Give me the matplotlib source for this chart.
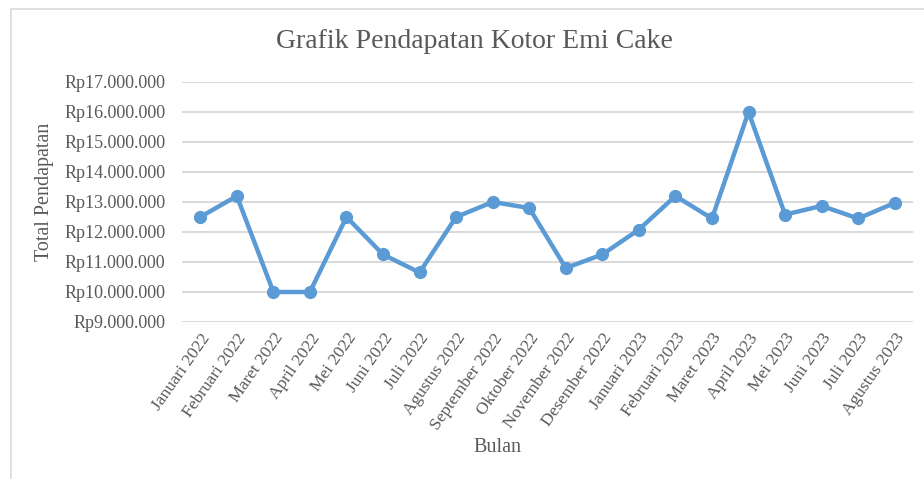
import matplotlib.pyplot as plt
from matplotlib.patches import Rectangle

# monthly gross income (Rupiah)
months = ['Januari 2022', 'Februari 2022', 'Maret 2022', 'April 2022', 'Mei 2022',
          'Juni 2022', 'Juli 2022', 'Agustus 2022', 'September 2022', 'Oktober 2022',
          'November 2022', 'Desember 2022', 'Januari 2023', 'Februari 2023',
          'Maret 2023', 'April 2023', 'Mei 2023', 'Juni 2023', 'Juli 2023',
          'Agustus 2023']
income = [12500000, 13200000, 10000000, 10000000, 12500000,
          11250000, 10650000, 12500000, 13000000, 12800000,
          10800000, 11250000, 12080000, 13200000,
          12450000, 16000000, 12580000, 12870000, 12450000,
          12970000]
y_ticks = list(range(9000000, 17000001, 1000000))

plt.rcParams['font.family'] = ['Liberation Serif', 'DejaVu Serif']
text_color = '#595959'
line_color = '#5B9BD5'

fig = plt.figure(figsize=(9.24, 4.79), dpi=100, facecolor='white')
# chart frame like the Excel chart area border
fig.patches.append(Rectangle((11 / 924, -0.1), 1.0, 1.1 - 9 / 479,
                             transform=fig.transFigure, fill=False,
                             edgecolor='#D9D9D9', linewidth=1.2))

ax = fig.add_axes([182 / 924, 1 - 322 / 479, (913 - 182) / 924, (322 - 82) / 479])
x = list(range(len(months)))
ax.plot(x, income, color=line_color, linewidth=3.2, marker='o', markersize=8.5,
        solid_joinstyle='round', zorder=3)

ax.set_xlim(-0.5, len(months) - 0.5)
ax.set_ylim(y_ticks[0], y_ticks[-1])
ax.set_yticks(y_ticks)
ax.set_yticklabels(['Rp' + f'{v:,}'.replace(',', '.') for v in y_ticks])
ax.set_xticks(x)
ax.set_xticklabels(months, rotation=55, ha='right', rotation_mode='anchor')
ax.tick_params(axis='both', length=0, labelcolor=text_color, labelsize=12.5)
ax.tick_params(axis='y', labelsize=13, pad=12)
ax.tick_params(axis='x', pad=6)
ax.grid(axis='y', color='#D9D9D9', linewidth=1.4)
ax.set_axisbelow(True)
for s in ax.spines.values():
    s.set_visible(False)

fig.text(474 / 924, 1 - 42 / 479, 'Grafik Pendapatan Kotor Emi Cake',
         ha='center', va='center', fontsize=20, color=text_color)
fig.text(45 / 924, 1 - 192 / 479, 'Total Pendapatan', rotation=90,
         ha='center', va='center', fontsize=14.5, color=text_color)
fig.text(497 / 924, 1 - 448 / 479, 'Bulan', ha='center', va='center',
         fontsize=14.5, color=text_color)

fig.savefig('out.png', dpi=100, facecolor='white')
